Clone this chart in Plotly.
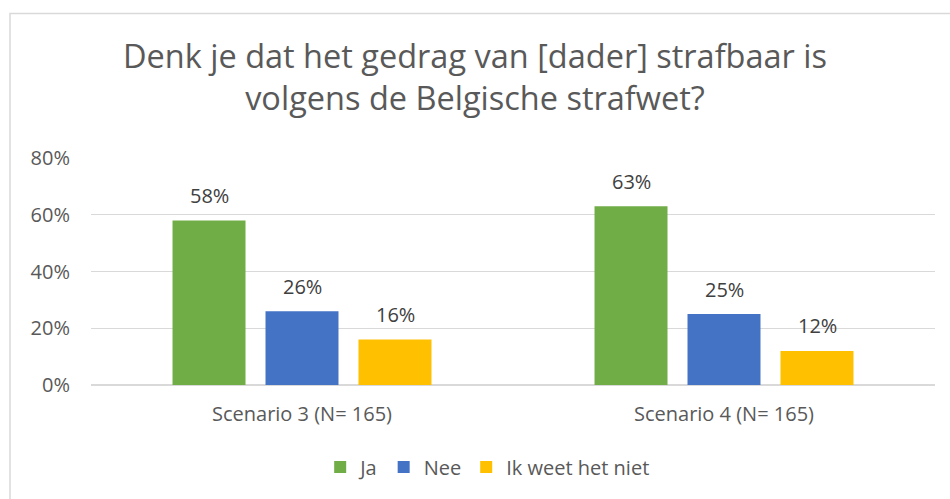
import plotly.graph_objects as go

categories = ["Scenario 3 (N= 165)", "Scenario 4 (N= 165)"]
series_names = ["Ja", "Nee", "Ik weet het niet"]
ja = [0.58, 0.63]
nee = [0.26, 0.25]
ik = [0.16, 0.12]
colors = ["#70AD47", "#4472C4", "#FFC000"]
y_ticks = [0, 0.2, 0.4, 0.6, 0.8]
y_tick_labels = ["0%", "20%", "40%", "60%", "80%"]
title_text = "Denk je dat het gedrag van [dader] strafbaar is<br>volgens de Belgische strafwet?"

FONT = "Open Sans"
FS = 20

fig = go.Figure()
series = [ja, nee, ik]
for name, vals, col in zip(series_names, series, colors):
    fig.add_trace(go.Bar(
        x=categories, y=vals, name=name,
        marker=dict(color=col, line=dict(width=0)),
    ))

W, H = 950, 499
L, R, T, B = 91, 15, 158, 114
pw = W - L - R
ph = H - T - B

# data labels as annotations above each bar
slot = 93
for i, vals in enumerate(series):
    for cat, v in zip(categories, vals):
        fig.add_annotation(x=cat, y=v, text=f"{v:.0%}", showarrow=False,
                           xshift=(i - 1) * slot, yshift=25, yanchor="middle",
                           font=dict(family=FONT, size=FS, color="#404040"))

fig.update_layout(
    width=W, height=H,
    margin=dict(l=L, r=R, t=T, b=B, autoexpand=False),
    paper_bgcolor="white", plot_bgcolor="white",
    barmode="group", bargap=0.339, bargroupgap=0.215,
    font=dict(family=FONT, color="#595959"),
    title=dict(text=title_text, x=0.5, xanchor="center", y=1 - 68 / H, yanchor="middle",
               font=dict(family=FONT, size=32.5, color="#595959")),
    showlegend=True,
    legend=dict(orientation="h", x=0.47, xanchor="center", y=-(467 - (T + ph)) / ph, yanchor="middle",
                font=dict(family=FONT, size=FS, color="#595959"), traceorder="normal",
                itemwidth=30),
    xaxis=dict(showgrid=False, showline=False, ticks="", ticklabelstandoff=15,
               tickfont=dict(family=FONT, size=FS, color="#595959")),
    yaxis=dict(range=[0, 0.8], tickvals=y_ticks, ticktext=y_tick_labels, showgrid=True,
               gridcolor="#D9D9D9", gridwidth=1, zeroline=True, zerolinecolor="#D9D9D9",
               showline=False, ticks="", ticklabelstandoff=20,
               tickfont=dict(family=FONT, size=FS, color="#595959")),
)

fig.add_shape(type="rect", xref="paper", yref="paper",
              x0=(10 - L) / pw, x1=(960 - L) / pw,
              y0=-(510 - (T + ph)) / ph, y1=1 + (T - 13.5) / ph,
              line=dict(color="#D9D9D9", width=1.5), fillcolor="rgba(0,0,0,0)", layer="below")

fig.write_html("out.html", config={"displayModeBar": False},
               post_script="document.body.style.margin='0';document.body.style.overflow='hidden';")
